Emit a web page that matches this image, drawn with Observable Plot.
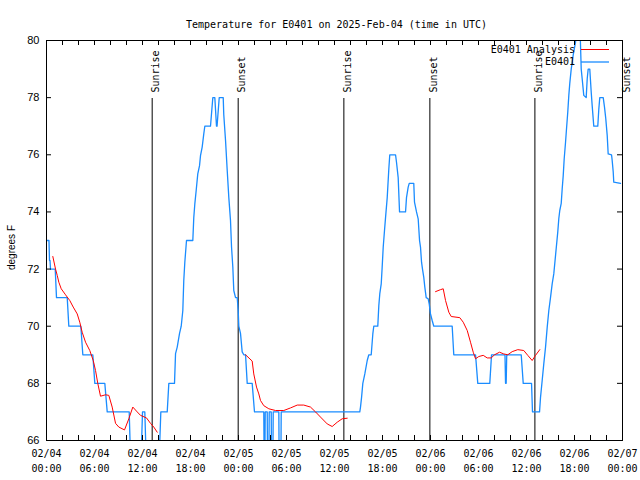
<!DOCTYPE html>
<html><head><meta charset="utf-8">
<script src="https://cdn.jsdelivr.net/npm/d3@7"></script>
<script src="https://cdn.jsdelivr.net/npm/@observablehq/plot@0.6"></script>
<style>body{margin:0;background:#fff}</style>
</head><body><div id="chart"></div>
<script>
const titleText = "Temperature for E0401 on 2025-Feb-04 (time in UTC)";
const yLabelText = "degrees F";
const startTime = "2025-02-04T00:00:00Z";
const endTime = "2025-02-07T00:00:00Z";
const obsName = "E0401";
const anaName = "E0401 Analysis";

// observations: hours since 02/04 00:00 UTC, degrees F
const obsHours = [0.1,0.31,0.375,0.44,0.5,1.09,1.25,2.59,2.79,4.29,4.54,5.79,6.04,7.29,7.59,10.34,10.54,11.79,12.0,12.29,12.5,14.04,14.29,15.09,15.29,16.0,16.13,16.34,16.63,16.84,17.04,17.16,17.29,17.5,18.29,18.41,18.54,18.71,18.91,19.13,19.25,19.46,19.66,19.79,20.5,20.79,21.04,21.25,21.32,21.59,22.09,22.16,22.38,22.59,22.79,23.0,23.13,23.29,23.41,23.63,23.84,23.96,24.04,24.25,24.46,24.66,24.88,25.09,25.71,26.0,
27.16,27.21,27.29,27.34,27.59,27.63,27.79,27.84,28.09,28.13,28.29,28.34,29.04,29.09,29.29,29.34,
39.16,39.25,39.38,39.54,39.79,40.09,40.29,40.59,40.79,40.91,41.41,41.54,41.66,41.84,41.96,42.09,42.25,42.38,42.59,42.79,42.91,43.63,43.75,43.96,44.13,44.88,45.0,45.21,45.34,45.91,46.0,46.25,46.46,46.63,46.75,46.88,47.0,47.16,47.29,47.46,47.71,47.84,48.0,48.21,48.41,
50.71,50.91,53.63,53.91,55.41,55.63,57.31,57.38,57.46,57.53,59.34,59.59,60.63,60.75,61.63,61.75,61.96,62.16,62.38,62.59,62.79,63.0,63.21,63.41,63.91,64.04,64.16,64.34,64.46,64.59,64.71,64.88,65.0,65.16,65.29,65.41,65.59,65.84,66.13,66.25,66.63,66.84,66.96,67.16,67.46,67.59,67.71,67.91,68.09,68.21,68.41,68.91,69.04,69.16,69.59,69.75,69.91,70.09,70.21,70.63,70.71,70.84,70.91,71.75];
const obsTemps = [73,73,72.3,72.3,72,72,71,71,70,70,69,69,68,68,67,67,65,65,67,67,65,65,67,67,68,68,69.04,69.27,69.75,70,70.55,71.6,72.24,73,73,73.8,74.28,74.75,75.33,75.62,75.97,76.27,76.73,77,77,78,78,77,77,78,78,77.4,76.5,75.45,74.5,73.7,72.77,72.07,71.25,71,71,70.55,70,69.75,69.1,69,69,68,68,67,
67,65,65,67,67,65,65,67,67,65,65,67,67,65,65,67,
67,67.17,67.5,68,68.33,68.8,69,69,69.73,70,70,70.72,71.13,71.48,72.07,72.77,73.35,73.8,74.5,75.5,76,76,75.74,75.2,74,74,74.5,74.87,75,75,74.34,74,73.76,73,72.77,72.24,72,71.71,71.37,71,70.96,70.78,70.43,70.2,70,
70,69,69,68,68,69,69,68,68,69,69,68,68,67,67,67.5,68.1,68.68,69.27,69.97,70.55,71,71.48,71.83,73.3,73.77,74.05,74.3,74.8,75.27,75.85,76.44,76.9,77.5,78.08,78.5,79,79.5,79.94,81,81,79,78.66,78.08,78,78.66,79,79,78.19,77.72,77,77,77.6,78,78,77.67,77.26,76.67,76.03,76,75.8,75.4,75.04,75];

// analysis: hours since 02/04 00:00 UTC, degrees F, segment id
const anaHours = [0.79,1.13,1.34,1.54,1.84,2.38,2.91,3.34,3.84,4.16,4.46,4.88,5.41,5.84,6.13,6.41,6.75,7.38,7.79,8.21,8.63,9.04,9.75,10.29,10.79,11.34,11.75,12.5,13.0,13.41,13.84,
24.88,25.71,25.91,26.25,26.54,26.75,27.16,27.79,28.63,29.66,30.5,31.34,32.16,33.0,33.63,34.25,35.09,35.71,36.34,36.96,37.59,
48.63,49.25,49.59,49.88,50.29,50.59,51.66,52.09,52.59,53.0,53.34,53.63,54.04,54.59,55.09,55.59,56.0,56.63,57.16,57.66,58.21,58.91,59.66,60.16,60.71,61.13,61.66];
const anaTemps = [72.44,72.0,71.78,71.54,71.31,71.1,70.9,70.67,70.43,70.14,69.79,69.44,69.15,68.8,68.45,68.0,67.55,67.6,67.58,67.17,66.6,66.47,66.37,66.76,67.17,67.0,66.88,66.79,66.6,66.47,66.29,
69.0,68.78,68.33,67.87,67.63,67.4,67.22,67.11,67.05,67.05,67.14,67.24,67.24,67.17,67.0,66.82,66.58,66.49,66.64,66.76,66.78,
71.21,71.28,71.31,70.9,70.49,70.34,70.3,70.14,69.85,69.44,69.09,68.86,68.94,68.98,68.89,68.89,69.0,69.09,69.03,69.0,69.11,69.18,69.15,68.98,68.8,68.98,69.18];
const anaSegment = [...Array(31).fill(1), ...Array(21).fill(2), ...Array(27).fill(3)];

// sunrise / sunset events
const sunLabels = ["Sunrise","Sunset","Sunrise","Sunset","Sunrise","Sunset"];
const sunHours = [13.21,23.96,37.17,47.92,61.05,72.0];

const yTicks = [66,68,70,72,74,76,78,80];
const yDomain = [66,80];

const t0 = new Date(startTime);
const toDate = h => new Date(+t0 + h * 3600000);
const obs = obsHours.map((h,i) => ({date: toDate(h), temp: obsTemps[i]}));
const ana = anaHours.map((h,i) => ({date: toDate(h), temp: anaTemps[i], seg: anaSegment[i]}));
const sun = sunHours.map((h,i) => ({date: toDate(h), label: sunLabels[i]}));

const mono = "DejaVu Sans Mono";
const sans = "Liberation Sans";
const blue = "#1a8cff";
const red = "#ff0000";
const fmt = d3.utcFormat("%m/%d\n%H:%M");
const minorTicks = d3.utcHour.every(2).range(new Date(startTime), new Date(+new Date(endTime) + 1));
const majorTicks = d3.utcHour.every(6).range(new Date(startTime), new Date(+new Date(endTime) + 1));

const W = 640, H = 480, mL = 46, mR = 18, mT = 40, mB = 40;
const frameW = W - mL - mR, frameH = H - mT - mB;
const tk = 5; // inward tick length

const plot = Plot.plot({
  width: W, height: H,
  marginLeft: mL, marginRight: mR, marginTop: mT, marginBottom: mB,
  style: {fontFamily: mono, fontSize: "10px", background: "#fff", color: "black"},
  x: {type: "utc", domain: [new Date(startTime), new Date(endTime)]},
  y: {domain: yDomain},
  marks: [
    Plot.ruleX(sun, {x: "date", stroke: "black", strokeWidth: 1, insetTop: 58}),
    Plot.text(sun, {x: "date", text: "label", frameAnchor: "top", dy: 52, rotate: -90, textAnchor: "start", fontFamily: mono, fontSize: 10, fill: "black"}),
    Plot.line(obs, {x: "date", y: "temp", stroke: blue, strokeWidth: 1.3, curve: "linear", clip: true}),
    Plot.line(ana, {x: "date", y: "temp", z: "seg", stroke: red, strokeWidth: 1, clip: true}),
    // inward ticks on all four sides
    Plot.tickX(minorTicks, {x: d => d, stroke: "black", insetTop: frameH - tk}),
    Plot.tickX(minorTicks, {x: d => d, stroke: "black", insetBottom: frameH - tk}),
    Plot.tickY(yTicks, {y: d => d, stroke: "black", insetRight: frameW - tk}),
    Plot.tickY(yTicks, {y: d => d, stroke: "black", insetLeft: frameW - tk}),
    Plot.axisX({anchor: "bottom", ticks: majorTicks, tickSize: 0, tickPadding: 6, tickFormat: fmt, lineHeight: 1.5, fontFamily: mono, fontSize: 10, label: null}),
    Plot.axisY({anchor: "left", ticks: yTicks, tickSize: 0, tickPadding: 7, fontFamily: sans, fontSize: 11, label: null}),
    Plot.frame({stroke: "black"}),
    Plot.text([titleText], {text: d => d, frameAnchor: "top", dy: -20, dx: 2, fontFamily: mono, fontSize: 10, fill: "black"}),
    Plot.text([yLabelText], {text: d => d, frameAnchor: "left", textAnchor: "middle", dx: -35, dy: 7, rotate: -90, fontFamily: sans, fontSize: 10, fill: "black"})
  ]
});

// legend (top-right, inside the frame)
const frameRight = W - mR, frameTop = mT;
const legend = d3.select(plot).append("g").attr("font-family", mono).attr("font-size", 10);
[[anaName, red, 9.5], [obsName, blue, 22]].forEach(([name, color, off]) => {
  legend.append("text").attr("x", frameRight - 47).attr("y", frameTop + off).attr("dy", "0.32em")
    .attr("text-anchor", "end").attr("fill", "black").text(name);
  legend.append("line").attr("x1", frameRight - 41).attr("x2", frameRight - 13)
    .attr("y1", frameTop + off).attr("y2", frameTop + off).attr("stroke", color).attr("stroke-width", color === blue ? 1.3 : 1);
});

plot.style.display = "block";
document.getElementById("chart").appendChild(plot);
</script>
</body></html>
